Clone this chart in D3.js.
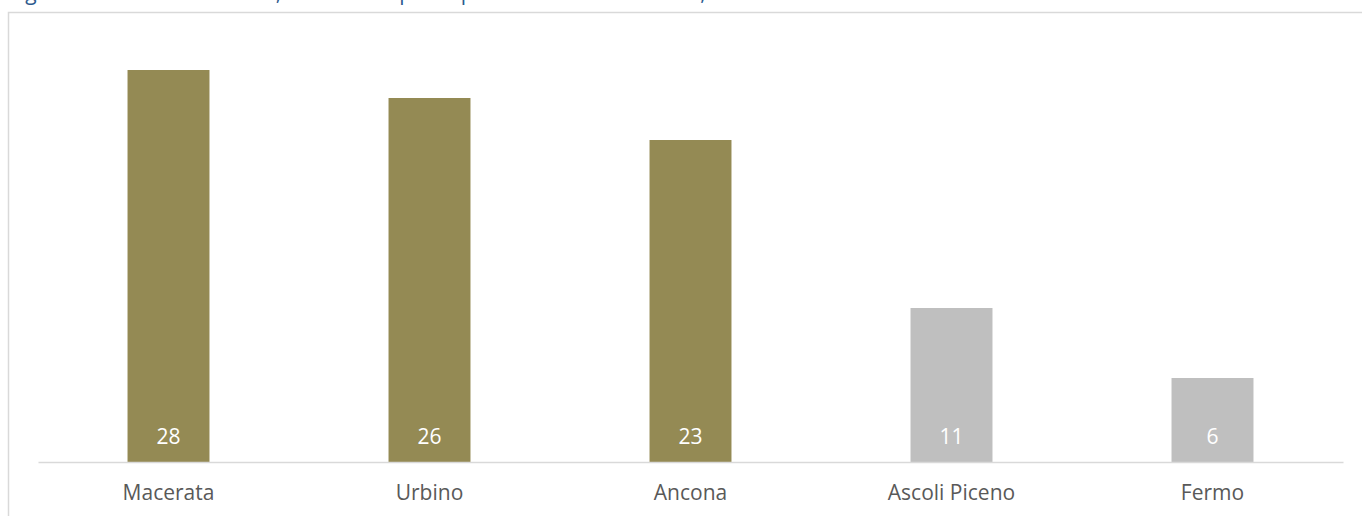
<!DOCTYPE html>
<html>
<head>
<meta charset="utf-8">
<script src="https://cdn.jsdelivr.net/npm/d3@7"></script>
<style>
  html, body { margin: 0; padding: 0; background: #ffffff; }
  svg { display: block; }
</style>
</head>
<body>
<svg id="chart" width="1362" height="516"></svg>
<script>
// Provinces and their values
const categories = ["Macerata", "Urbino", "Ancona", "Ascoli Piceno", "Fermo"];
const values = [28, 26, 23, 11, 6];
const highlighted = [true, true, true, false, false];
const titleText = "Agriturismi attivi in Marche, ettari medi per superficie totale e coltivata, 2010";

const W = 1362, H = 516;
const margin = { left: 38, right: 19, top: 42, bottom: 54 };
const svg = d3.select("#chart");
const font = "'Open Sans', 'Liberation Sans', sans-serif";
const fontSize = 21;

// Title, running off the top edge of the page
svg.append("text")
  .attr("x", 12).attr("y", 0)
  .attr("font-family", font).attr("font-size", fontSize)
  .attr("fill", "#2E5B8E")
  .text(titleText);

// Chart frame
svg.append("rect")
  .attr("x", 8.5).attr("y", 12.5)
  .attr("width", W + 20).attr("height", H + 20)
  .attr("fill", "none").attr("stroke", "#D9D9D9").attr("stroke-width", 1.5);

const x = d3.scaleBand()
  .domain(categories)
  .range([margin.left, W - margin.right])
  .paddingInner(0.686).paddingOuter(0.343);

const y = d3.scaleLinear()
  .domain([0, 30])
  .range([H - margin.bottom, margin.top]);

// Bars
svg.append("g").selectAll("rect")
  .data(categories)
  .join("rect")
  .attr("x", d => x(d))
  .attr("y", (d, i) => y(values[i]))
  .attr("width", x.bandwidth())
  .attr("height", (d, i) => y(0) - y(values[i]))
  .attr("fill", (d, i) => highlighted[i] ? "#948A54" : "#BFBFBF");

// Value labels inside the bars
svg.append("g").selectAll("text")
  .data(categories)
  .join("text")
  .attr("x", d => x(d) + x.bandwidth() / 2)
  .attr("y", y(0) - 18)
  .attr("text-anchor", "middle")
  .attr("font-family", font).attr("font-size", fontSize)
  .attr("fill", "#ffffff")
  .text((d, i) => values[i]);

// Category axis
const axis = svg.append("g")
  .attr("transform", `translate(0,${y(0)})`)
  .call(d3.axisBottom(x).tickSize(0));
axis.select(".domain").attr("stroke", "#D9D9D9").attr("stroke-width", 1.5);
axis.selectAll("text")
  .attr("y", 38).attr("dy", null)
  .attr("font-family", font).attr("font-size", fontSize)
  .attr("fill", "#595959");
</script>
</body>
</html>
